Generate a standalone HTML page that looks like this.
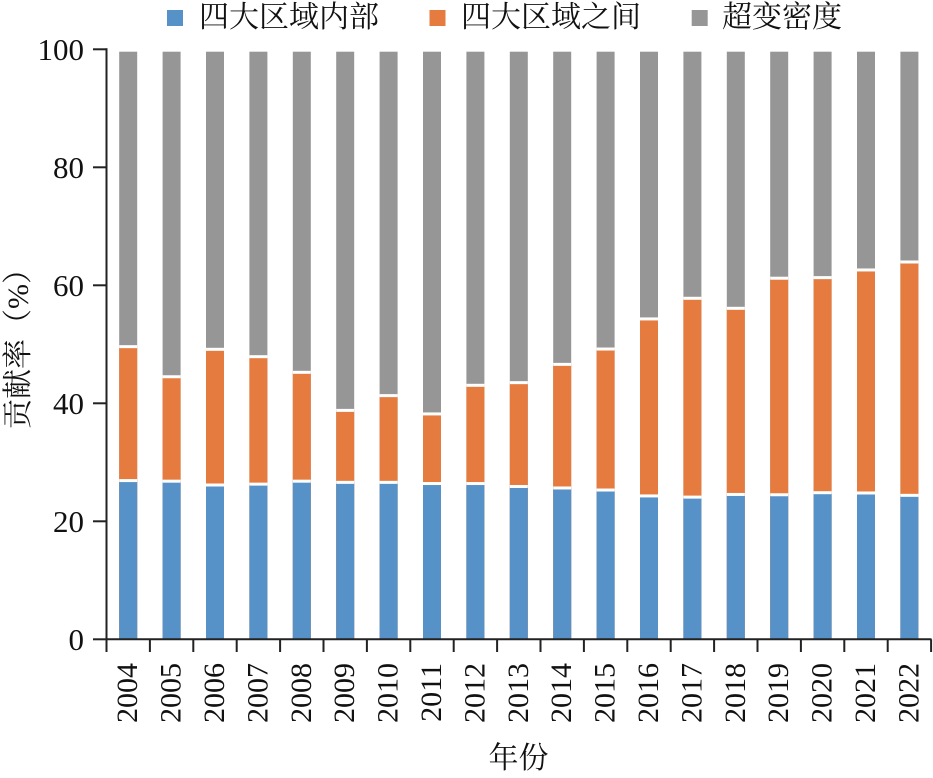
<!DOCTYPE html>
<html>
<head>
<meta charset="utf-8">
<style>
html,body{margin:0;padding:0;background:#fff;}
svg{display:block;}
text{fill:#111;}
.num{font-family:"Liberation Serif","Tinos","Times New Roman","Nimbus Roman","Nimbus Roman No9 L","FreeSerif",Times,serif;}
.cjk{font-family:"Liberation Serif","Tinos","Times New Roman","Noto Serif CJK SC",serif;}
</style>
</head>
<body>
<svg width="933" height="778" viewBox="0 0 933 778" xmlns="http://www.w3.org/2000/svg">
  <!-- Legend -->
  <rect x="167" y="10" width="16" height="16" fill="#5691C7"/>
  <text class="cjk" x="199" y="27" font-size="30">四大区域内部</text>
  <rect x="429.5" y="10" width="16" height="16" fill="#E57B3F"/>
  <text class="cjk" x="461" y="27" font-size="30">四大区域之间</text>
  <rect x="691.7" y="10" width="16" height="16" fill="#969696"/>
  <text class="cjk" x="722" y="27" font-size="30">超变密度</text>

  <!-- Bars: gray full -->
  <g fill="#969696">
    <rect x="119.2" y="51.7" width="18" height="586.8"/>
    <rect x="162.6" y="51.7" width="18" height="586.8"/>
    <rect x="206.0" y="51.7" width="18" height="586.8"/>
    <rect x="249.4" y="51.7" width="18" height="586.8"/>
    <rect x="292.8" y="51.7" width="18" height="586.8"/>
    <rect x="336.2" y="51.7" width="18" height="586.8"/>
    <rect x="379.6" y="51.7" width="18" height="586.8"/>
    <rect x="423.0" y="51.7" width="18" height="586.8"/>
    <rect x="466.4" y="51.7" width="18" height="586.8"/>
    <rect x="509.8" y="51.7" width="18" height="586.8"/>
    <rect x="553.2" y="51.7" width="18" height="586.8"/>
    <rect x="596.6" y="51.7" width="18" height="586.8"/>
    <rect x="640.0" y="51.7" width="18" height="586.8"/>
    <rect x="683.4" y="51.7" width="18" height="586.8"/>
    <rect x="726.8" y="51.7" width="18" height="586.8"/>
    <rect x="770.2" y="51.7" width="18" height="586.8"/>
    <rect x="813.6" y="51.7" width="18" height="586.8"/>
    <rect x="857.0" y="51.7" width="18" height="586.8"/>
    <rect x="900.4" y="51.7" width="18" height="586.8"/>
  </g>
  <!-- Orange -->
  <g fill="#E57B3F">
    <rect x="119.2" y="346.66" width="18" height="291.84"/>
    <rect x="162.6" y="376.75" width="18" height="261.75"/>
    <rect x="206.0" y="349.32" width="18" height="289.18"/>
    <rect x="249.4" y="356.69" width="18" height="281.81"/>
    <rect x="292.8" y="372.33" width="18" height="266.17"/>
    <rect x="336.2" y="410.38" width="18" height="228.12"/>
    <rect x="379.6" y="395.63" width="18" height="242.87"/>
    <rect x="423.0" y="413.92" width="18" height="224.58"/>
    <rect x="466.4" y="385.31" width="18" height="253.19"/>
    <rect x="509.8" y="382.65" width="18" height="255.85"/>
    <rect x="553.2" y="364.36" width="18" height="274.14"/>
    <rect x="596.6" y="349.02" width="18" height="289.48"/>
    <rect x="640.0" y="318.93" width="18" height="319.57"/>
    <rect x="683.4" y="298.28" width="18" height="340.22"/>
    <rect x="726.8" y="308.31" width="18" height="330.19"/>
    <rect x="770.2" y="278.22" width="18" height="360.28"/>
    <rect x="813.6" y="277.63" width="18" height="360.87"/>
    <rect x="857.0" y="269.96" width="18" height="368.54"/>
    <rect x="900.4" y="261.99" width="18" height="376.51"/>
  </g>
  <!-- Blue -->
  <g fill="#5691C7">
    <rect x="119.2" y="480.59" width="18" height="157.91"/>
    <rect x="162.6" y="481.18" width="18" height="157.32"/>
    <rect x="206.0" y="485.00" width="18" height="153.50"/>
    <rect x="249.4" y="484.13" width="18" height="154.37"/>
    <rect x="292.8" y="481.18" width="18" height="157.32"/>
    <rect x="336.2" y="482.36" width="18" height="156.14"/>
    <rect x="379.6" y="482.36" width="18" height="156.14"/>
    <rect x="423.0" y="483.54" width="18" height="154.96"/>
    <rect x="466.4" y="483.54" width="18" height="154.96"/>
    <rect x="509.8" y="486.49" width="18" height="152.01"/>
    <rect x="553.2" y="487.97" width="18" height="150.53"/>
    <rect x="596.6" y="490.03" width="18" height="148.47"/>
    <rect x="640.0" y="495.93" width="18" height="142.57"/>
    <rect x="683.4" y="497.11" width="18" height="141.39"/>
    <rect x="726.8" y="494.46" width="18" height="144.04"/>
    <rect x="770.2" y="494.75" width="18" height="143.75"/>
    <rect x="813.6" y="492.69" width="18" height="145.81"/>
    <rect x="857.0" y="492.98" width="18" height="145.52"/>
    <rect x="900.4" y="495.34" width="18" height="143.16"/>
  </g>
  <!-- White separators -->
  <g fill="#fff">
    <rect x="119.2" y="345.16" width="18" height="3"/><rect x="119.2" y="479.09" width="18" height="3"/>
    <rect x="162.6" y="375.25" width="18" height="3"/><rect x="162.6" y="479.68" width="18" height="3"/>
    <rect x="206.0" y="347.82" width="18" height="3"/><rect x="206.0" y="483.50" width="18" height="3"/>
    <rect x="249.4" y="355.19" width="18" height="3"/><rect x="249.4" y="482.63" width="18" height="3"/>
    <rect x="292.8" y="370.83" width="18" height="3"/><rect x="292.8" y="479.68" width="18" height="3"/>
    <rect x="336.2" y="408.88" width="18" height="3"/><rect x="336.2" y="480.86" width="18" height="3"/>
    <rect x="379.6" y="394.13" width="18" height="3"/><rect x="379.6" y="480.86" width="18" height="3"/>
    <rect x="423.0" y="412.42" width="18" height="3"/><rect x="423.0" y="482.04" width="18" height="3"/>
    <rect x="466.4" y="383.81" width="18" height="3"/><rect x="466.4" y="482.04" width="18" height="3"/>
    <rect x="509.8" y="381.15" width="18" height="3"/><rect x="509.8" y="484.99" width="18" height="3"/>
    <rect x="553.2" y="362.86" width="18" height="3"/><rect x="553.2" y="486.47" width="18" height="3"/>
    <rect x="596.6" y="347.52" width="18" height="3"/><rect x="596.6" y="488.53" width="18" height="3"/>
    <rect x="640.0" y="317.43" width="18" height="3"/><rect x="640.0" y="494.43" width="18" height="3"/>
    <rect x="683.4" y="296.78" width="18" height="3"/><rect x="683.4" y="495.61" width="18" height="3"/>
    <rect x="726.8" y="306.81" width="18" height="3"/><rect x="726.8" y="492.96" width="18" height="3"/>
    <rect x="770.2" y="276.72" width="18" height="3"/><rect x="770.2" y="493.25" width="18" height="3"/>
    <rect x="813.6" y="276.13" width="18" height="3"/><rect x="813.6" y="491.19" width="18" height="3"/>
    <rect x="857.0" y="268.46" width="18" height="3"/><rect x="857.0" y="491.48" width="18" height="3"/>
    <rect x="900.4" y="260.49" width="18" height="3"/><rect x="900.4" y="493.84" width="18" height="3"/>
  </g>

  <!-- Axes -->
  <g stroke="#222" stroke-width="2" fill="none">
    <line x1="106.5" y1="48.3" x2="106.5" y2="640.3"/>
    <line x1="105.5" y1="639.3" x2="931.5" y2="639.3"/>
    <line x1="93" y1="49.3" x2="106.5" y2="49.3"/>
    <line x1="93" y1="167.3" x2="106.5" y2="167.3"/>
    <line x1="93" y1="285.3" x2="106.5" y2="285.3"/>
    <line x1="93" y1="403.3" x2="106.5" y2="403.3"/>
    <line x1="93" y1="521.3" x2="106.5" y2="521.3"/>
    <line x1="93" y1="639.3" x2="106.5" y2="639.3"/>
    <line x1="106.5" y1="639.3" x2="106.5" y2="652"/>
    <line x1="149.9" y1="639.3" x2="149.9" y2="652"/>
    <line x1="193.3" y1="639.3" x2="193.3" y2="652"/>
    <line x1="236.7" y1="639.3" x2="236.7" y2="652"/>
    <line x1="280.1" y1="639.3" x2="280.1" y2="652"/>
    <line x1="323.5" y1="639.3" x2="323.5" y2="652"/>
    <line x1="366.9" y1="639.3" x2="366.9" y2="652"/>
    <line x1="410.3" y1="639.3" x2="410.3" y2="652"/>
    <line x1="453.7" y1="639.3" x2="453.7" y2="652"/>
    <line x1="497.1" y1="639.3" x2="497.1" y2="652"/>
    <line x1="540.5" y1="639.3" x2="540.5" y2="652"/>
    <line x1="583.9" y1="639.3" x2="583.9" y2="652"/>
    <line x1="627.3" y1="639.3" x2="627.3" y2="652"/>
    <line x1="670.7" y1="639.3" x2="670.7" y2="652"/>
    <line x1="714.1" y1="639.3" x2="714.1" y2="652"/>
    <line x1="757.5" y1="639.3" x2="757.5" y2="652"/>
    <line x1="800.9" y1="639.3" x2="800.9" y2="652"/>
    <line x1="844.3" y1="639.3" x2="844.3" y2="652"/>
    <line x1="887.7" y1="639.3" x2="887.7" y2="652"/>
    <line x1="931.1" y1="639.3" x2="931.1" y2="652"/>
  </g>

  <!-- Y tick labels -->
  <g class="num" font-size="31" text-anchor="end">
    <text x="84" y="59.8">100</text>
    <text x="84" y="177.8">80</text>
    <text x="84" y="295.8">60</text>
    <text x="84" y="413.8">40</text>
    <text x="84" y="531.8">20</text>
    <text x="84" y="649.8">0</text>
  </g>

  <!-- X tick labels -->
  <g class="num" font-size="30" text-anchor="end">
    <text transform="translate(137.2,663) rotate(-90)">2004</text>
    <text transform="translate(180.6,663) rotate(-90)">2005</text>
    <text transform="translate(224.0,663) rotate(-90)">2006</text>
    <text transform="translate(267.4,663) rotate(-90)">2007</text>
    <text transform="translate(310.8,663) rotate(-90)">2008</text>
    <text transform="translate(354.2,663) rotate(-90)">2009</text>
    <text transform="translate(397.6,663) rotate(-90)">2010</text>
    <text transform="translate(441.0,663) rotate(-90)">2011</text>
    <text transform="translate(484.4,663) rotate(-90)">2012</text>
    <text transform="translate(527.8,663) rotate(-90)">2013</text>
    <text transform="translate(571.2,663) rotate(-90)">2014</text>
    <text transform="translate(614.6,663) rotate(-90)">2015</text>
    <text transform="translate(658.0,663) rotate(-90)">2016</text>
    <text transform="translate(701.4,663) rotate(-90)">2017</text>
    <text transform="translate(744.8,663) rotate(-90)">2018</text>
    <text transform="translate(788.2,663) rotate(-90)">2019</text>
    <text transform="translate(831.6,663) rotate(-90)">2020</text>
    <text transform="translate(875.0,663) rotate(-90)">2021</text>
    <text transform="translate(918.4,663) rotate(-90)">2022</text>
  </g>

  <!-- Axis titles -->
  <text class="cjk" x="518.5" y="768" font-size="30" text-anchor="middle">年份</text>
  <text class="cjk" transform="translate(28,429) rotate(-90)" font-size="30" text-anchor="start">贡献率（%）</text>
</svg>
</body>
</html>
